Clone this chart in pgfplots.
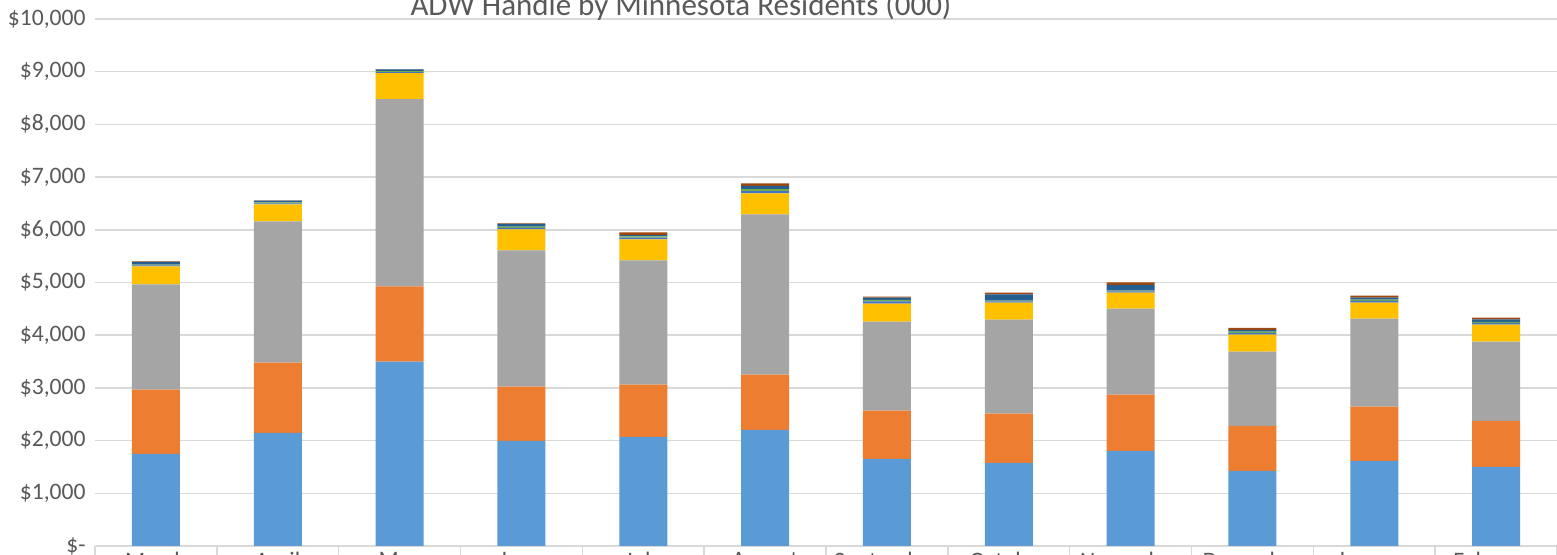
\documentclass[border=0pt]{standalone}
\usepackage{pgfplots}
\usepackage{pgfplotstable}
\pgfplotsset{compat=1.18}
\usepackage{fontspec}
\setmainfont{Carlito}
\definecolor{cA}{HTML}{5B9BD5}
\definecolor{cB}{HTML}{ED7D31}
\definecolor{cC}{HTML}{A5A5A5}
\definecolor{cD}{HTML}{FFC000}
\definecolor{cE}{HTML}{4472C4}
\definecolor{cF}{HTML}{70AD47}
\definecolor{cG}{HTML}{255E91}
\definecolor{cH}{HTML}{9E480E}
\definecolor{gridc}{HTML}{D9D9D9}
\definecolor{textc}{HTML}{595959}
\pgfplotstableread{
x s1 s2 s3 s4 s5 s6 s7 s8
0 1750 1216 1996 342 20 15 50 10
1 2148 1331 2681 323 20 16 35 5
2 3498 1426 3555 494 20 16 35 5
3 1996 1027 2585 400 30 24 50 10
4 2072 989 2357 399 35 25 20 55
5 2205 1046 3042 399 40 40 60 50
6 1654 913 1692 342 40 30 40 23
7 1578 932 1787 323 20 15 120 35
8 1806 1065 1635 304 20 15 110 45
9 1426 855 1407 323 30 25 35 38
10 1616 1027 1673 304 30 25 40 38
11 1502 874 1502 324 30 20 50 33
}\datatable
\begin{document}
\begin{tikzpicture}
\useasboundingbox (0,0) rectangle (778.5pt,277.5pt);
\begin{axis}[
  at={(47.5pt,4.5pt)}, anchor=south west,
  scale only axis, width=731pt, height=263.5pt,
  ybar stacked, bar width=24pt,
  xmin=-0.5, xmax=11.5, ymin=0, ymax=10000,
  scaled y ticks=false,
  axis x line*=bottom, axis y line*=left,
  y axis line style={draw=none},
  x axis line style={draw=gridc, line width=0.9pt},
  ymajorgrids, grid style={gridc, line width=0.75pt},
  ytick={0,1000,...,10000},
  yticklabels={{\$-\hspace{11pt}},{\$1,000},{\$2,000},{\$3,000},{\$4,000},{\$5,000},{\$6,000},{\$7,000},{\$8,000},{\$9,000},{\$10,000}},
  xtick={0,...,11},
  xticklabels={March,April,May,June,July,August,September,October,November,December,January,February},
  minor xtick={-0.5,0.5,...,11.5},
  tick align=outside,
  major tick length=0pt, minor tick length=12pt,
  minor tick style={draw=gridc, line width=0.75pt},
  ticklabel style={font=\fontsize{11.8}{14}\selectfont, text=textc},
  yticklabel style={anchor=east, inner sep=0pt, xshift=-4.5pt},
  xticklabel style={anchor=north, inner sep=0pt, yshift=-3pt},
  /pgf/number format/assume math mode=true,
]
\addplot[fill=cA, draw=none] table[x=x, y=s1]{\datatable};
\addplot[fill=cB, draw=none] table[x=x, y=s2]{\datatable};
\addplot[fill=cC, draw=none] table[x=x, y=s3]{\datatable};
\addplot[fill=cD, draw=none] table[x=x, y=s4]{\datatable};
\addplot[fill=cE, draw=none] table[x=x, y=s5]{\datatable};
\addplot[fill=cF, draw=none] table[x=x, y=s6]{\datatable};
\addplot[fill=cG, draw=none] table[x=x, y=s7]{\datatable};
\addplot[fill=cH, draw=none] table[x=x, y=s8]{\datatable};
\end{axis}
\node[anchor=base, inner sep=0pt, text=textc, font=\fontsize{15.5}{19}\selectfont] at (340.5pt,269.5pt) {ADW Handle by Minnesota Residents (000)};
\end{tikzpicture}
\end{document}
